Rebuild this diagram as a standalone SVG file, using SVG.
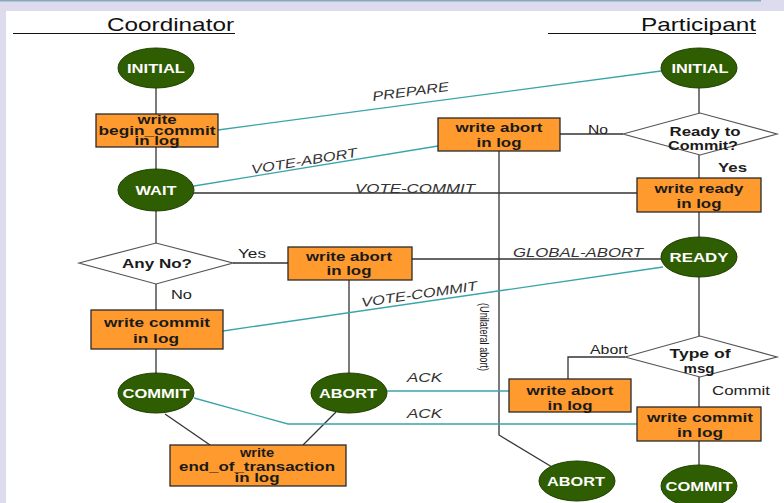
<svg xmlns="http://www.w3.org/2000/svg" width="784" height="503" viewBox="0 0 784 503">
<style>
text{font-family:"Liberation Sans",Arial,sans-serif}
.st{fill:#2f5e02;stroke:#1f3f00;stroke-width:1}
.st-t{font-weight:bold;font-size:13px;fill:#ffffff;text-anchor:middle}
.bx{fill:#ff9a2e;stroke:#2a2a2a;stroke-width:1.3}
.bx-t{font-weight:bold;font-size:13px;fill:#1a1a1a;text-anchor:middle}
.bx-s{font-weight:bold;font-size:12px;fill:#1a1a1a;text-anchor:middle}
.dm{fill:#ffffff;stroke:#555555;stroke-width:1.2}
.ln{stroke:#333333;stroke-width:1.3;fill:none}
.tl{stroke:#3aa5a8;stroke-width:1.3;fill:none}
.lab{font-size:13px;fill:#222222}
.msg{font-style:italic;font-size:13px;fill:#333333}
.hd{font-size:19px;fill:#111111}
</style>
<rect x="0" y="0" width="784" height="503" fill="#dcdcee"/>
<line x1="0" y1="0.8" x2="761" y2="0.8" stroke="#8aa8bc" stroke-width="1.6"/>
<rect x="6" y="11" width="778" height="492" fill="#ffffff"/>

<g id="headers">
<text class="hd" x="107" y="31" textLength="127" lengthAdjust="spacingAndGlyphs">Coordinator</text>
<line x1="13" y1="33.5" x2="235" y2="33.5" stroke="#111" stroke-width="1.2"/>
<text class="hd" x="641" y="31" textLength="115" lengthAdjust="spacingAndGlyphs">Participant</text>
<line x1="548" y1="33.5" x2="756" y2="33.5" stroke="#111" stroke-width="1.2"/>
</g>

<g id="connectors">
<line class="ln" x1="156" y1="88" x2="156" y2="114"/>
<line class="ln" x1="156" y1="147" x2="156" y2="169"/>
<line class="ln" x1="156" y1="211" x2="156" y2="243"/>
<line class="ln" x1="156" y1="284" x2="156" y2="310"/>
<line class="ln" x1="156" y1="349" x2="156" y2="373"/>
<line class="ln" x1="233" y1="263" x2="288" y2="263"/>
<line class="ln" x1="349" y1="280" x2="349" y2="373"/>
<line class="ln" x1="165" y1="414" x2="210" y2="445"/>
<line class="ln" x1="336" y1="412" x2="303" y2="445"/>
<line class="ln" x1="699" y1="88" x2="699" y2="113"/>
<line class="ln" x1="699" y1="155" x2="699" y2="178"/>
<line class="ln" x1="699" y1="212" x2="699" y2="238"/>
<line class="ln" x1="699" y1="277" x2="699" y2="336"/>
<line class="ln" x1="699" y1="377" x2="699" y2="407"/>
<line class="ln" x1="699" y1="441" x2="699" y2="465"/>
<line class="ln" x1="560" y1="134" x2="623" y2="134"/>
<polyline class="ln" points="625,357 568,357 568,379"/>
<polyline class="ln" points="499,151 499,435 552,467"/>
<line class="ln" x1="194" y1="193" x2="637" y2="193"/>
<line class="ln" x1="412" y1="259" x2="661" y2="259"/>
<line class="tl" x1="218" y1="130" x2="661" y2="71"/>
<line class="tl" x1="194" y1="186" x2="438" y2="146"/>
<line class="tl" x1="223" y1="331" x2="663" y2="267"/>
<line class="tl" x1="387" y1="391" x2="509" y2="391"/>
<polyline class="tl" points="194,398 288,424 637,424"/>
</g>

<g id="labels">
<text class="msg" transform="translate(373,101) rotate(-7.6)" textLength="77" lengthAdjust="spacingAndGlyphs">PREPARE</text>
<text class="msg" transform="translate(252,174) rotate(-9.3)" textLength="107" lengthAdjust="spacingAndGlyphs">VOTE-ABORT</text>
<text class="msg" x="355" y="193" textLength="120" lengthAdjust="spacingAndGlyphs">VOTE-COMMIT</text>
<text class="msg" x="513" y="257" textLength="130" lengthAdjust="spacingAndGlyphs">GLOBAL-ABORT</text>
<text class="msg" transform="translate(362,307) rotate(-8.3)" textLength="117" lengthAdjust="spacingAndGlyphs">VOTE-COMMIT</text>
<text class="msg" x="407" y="382" textLength="35" lengthAdjust="spacingAndGlyphs">ACK</text>
<text class="msg" x="407" y="418" textLength="35" lengthAdjust="spacingAndGlyphs">ACK</text>
<text class="lab" x="238" y="258" textLength="28" lengthAdjust="spacingAndGlyphs">Yes</text>
<text class="lab" x="171" y="299" textLength="21" lengthAdjust="spacingAndGlyphs">No</text>
<text class="lab" x="588" y="134" textLength="20" lengthAdjust="spacingAndGlyphs">No</text>
<text class="lab" x="718" y="172" font-weight="bold" textLength="29" lengthAdjust="spacingAndGlyphs">Yes</text>
<text class="lab" x="590" y="354" textLength="38" lengthAdjust="spacingAndGlyphs">Abort</text>
<text class="lab" x="712" y="395" textLength="58" lengthAdjust="spacingAndGlyphs">Commit</text>
<text font-size="12.5" fill="#1a1a1a" transform="translate(480,303) rotate(90)" textLength="68" lengthAdjust="spacingAndGlyphs">(Unilateral abort)</text>
</g>

<g id="c-initial"><ellipse class="st" cx="156" cy="68" rx="38" ry="20"/><text class="st-t" x="156" y="73" textLength="58" lengthAdjust="spacingAndGlyphs">INITIAL</text></g>
<g id="c-begin"><rect class="bx" x="96" y="114" width="122" height="33"/><text class="bx-s" x="157" y="124" textLength="39" lengthAdjust="spacingAndGlyphs">write</text><text class="bx-s" x="157" y="135" textLength="117" lengthAdjust="spacingAndGlyphs">begin_commit</text><text class="bx-s" x="157" y="145" textLength="45" lengthAdjust="spacingAndGlyphs">in log</text></g>
<g id="c-wait"><ellipse class="st" cx="156" cy="190" rx="38" ry="21"/><text class="st-t" x="156" y="195" textLength="41" lengthAdjust="spacingAndGlyphs">WAIT</text></g>
<g id="c-anyno"><polygon class="dm" points="79,263 156,243 233,263 156,284"/><text class="bx-t" x="157" y="268" textLength="70" lengthAdjust="spacingAndGlyphs">Any No?</text></g>
<g id="c-abortlog"><rect class="bx" x="288" y="247" width="124" height="33"/><text class="bx-t" x="349" y="261" textLength="86" lengthAdjust="spacingAndGlyphs">write abort</text><text class="bx-t" x="349" y="275" textLength="45" lengthAdjust="spacingAndGlyphs">in log</text></g>
<g id="c-commitlog"><rect class="bx" x="91" y="310" width="132" height="39"/><text class="bx-t" x="157" y="327" textLength="106" lengthAdjust="spacingAndGlyphs">write commit</text><text class="bx-t" x="156" y="343" textLength="46" lengthAdjust="spacingAndGlyphs">in log</text></g>
<g id="c-commit"><ellipse class="st" cx="156" cy="393" rx="38" ry="20"/><text class="st-t" x="156" y="398" textLength="67" lengthAdjust="spacingAndGlyphs">COMMIT</text></g>
<g id="c-abort"><ellipse class="st" cx="349" cy="393" rx="38" ry="20"/><text class="st-t" x="348" y="398" textLength="58" lengthAdjust="spacingAndGlyphs">ABORT</text></g>
<g id="c-eot"><rect class="bx" x="170" y="445" width="176" height="41"/><text class="bx-s" x="257" y="457" textLength="34" lengthAdjust="spacingAndGlyphs">write</text><text class="bx-s" x="257" y="471" textLength="156" lengthAdjust="spacingAndGlyphs">end_of_transaction</text><text class="bx-s" x="257" y="482" textLength="45" lengthAdjust="spacingAndGlyphs">in log</text></g>

<g id="p-initial"><ellipse class="st" cx="699" cy="68" rx="38" ry="20"/><text class="st-t" x="700" y="73" textLength="57" lengthAdjust="spacingAndGlyphs">INITIAL</text></g>
<g id="p-ready2commit"><polygon class="dm" points="623,134 700,113 777,134 700,155"/><text class="bx-t" x="705" y="136" textLength="71" lengthAdjust="spacingAndGlyphs">Ready to</text><text class="bx-t" x="703" y="150" textLength="70" lengthAdjust="spacingAndGlyphs">Commit?</text></g>
<g id="p-abortlog1"><rect class="bx" x="438" y="118" width="122" height="33"/><text class="bx-t" x="499" y="132" textLength="87" lengthAdjust="spacingAndGlyphs">write abort</text><text class="bx-t" x="499" y="147" textLength="45" lengthAdjust="spacingAndGlyphs">in log</text></g>
<g id="p-readylog"><rect class="bx" x="637" y="178" width="124" height="34"/><text class="bx-t" x="699" y="193" textLength="89" lengthAdjust="spacingAndGlyphs">write ready</text><text class="bx-t" x="699" y="208" textLength="45" lengthAdjust="spacingAndGlyphs">in log</text></g>
<g id="p-ready"><ellipse class="st" cx="699" cy="257" rx="38" ry="20"/><text class="st-t" x="699" y="262" textLength="59" lengthAdjust="spacingAndGlyphs">READY</text></g>
<g id="p-typeofmsg"><polygon class="dm" points="625,357 700,336 777,357 700,377"/><text class="bx-t" x="700" y="358" textLength="61" lengthAdjust="spacingAndGlyphs">Type of</text><text class="bx-t" x="699" y="373" textLength="31" lengthAdjust="spacingAndGlyphs">msg</text></g>
<g id="p-abortlog2"><rect class="bx" x="509" y="379" width="122" height="33"/><text class="bx-t" x="570" y="395" textLength="87" lengthAdjust="spacingAndGlyphs">write abort</text><text class="bx-t" x="570" y="410" textLength="45" lengthAdjust="spacingAndGlyphs">in log</text></g>
<g id="p-commitlog"><rect class="bx" x="637" y="407" width="124" height="34"/><text class="bx-t" x="700" y="422" textLength="106" lengthAdjust="spacingAndGlyphs">write commit</text><text class="bx-t" x="700" y="437" textLength="46" lengthAdjust="spacingAndGlyphs">in log</text></g>
<g id="p-abort"><ellipse class="st" cx="577" cy="481" rx="38" ry="20"/><text class="st-t" x="576" y="486" textLength="58" lengthAdjust="spacingAndGlyphs">ABORT</text></g>
<g id="p-commit"><ellipse class="st" cx="699" cy="486" rx="38" ry="21"/><text class="st-t" x="699" y="491" textLength="67" lengthAdjust="spacingAndGlyphs">COMMIT</text></g>
</svg>
